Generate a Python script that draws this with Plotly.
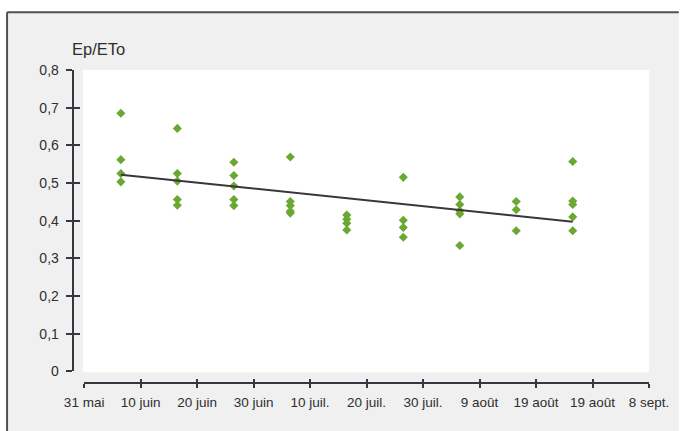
import numpy as np
import plotly.graph_objects as go

# ---- data -------------------------------------------------------------
# measurement dates (each sampling day, several plots per date)
dates = ["2009-06-06 12:00", "2009-06-16 12:00", "2009-06-26 12:00",
         "2009-07-06 12:00", "2009-07-16 12:00", "2009-07-26 12:00",
         "2009-08-05 12:00", "2009-08-15 12:00", "2009-08-25 12:00"]
# Ep/ETo ratios measured on each date
ratios = [
    [0.685, 0.562, 0.525, 0.503],
    [0.645, 0.525, 0.505, 0.456, 0.441],
    [0.555, 0.520, 0.492, 0.456, 0.440],
    [0.569, 0.451, 0.440, 0.425, 0.420],
    [0.415, 0.404, 0.393, 0.375],
    [0.515, 0.401, 0.382, 0.356],
    [0.463, 0.443, 0.426, 0.418, 0.334],
    [0.451, 0.429, 0.373],
    [0.557, 0.452, 0.443, 0.410, 0.373],
]

x_ticks = ["2009-05-31", "2009-06-10", "2009-06-20", "2009-06-30", "2009-07-10",
           "2009-07-20", "2009-07-30", "2009-08-09", "2009-08-19", "2009-08-29",
           "2009-09-08"]
x_labels = ["31 mai", "10 juin", "20 juin", "30 juin", "10 juil.", "20 juil.",
            "30 juil.", "9 août", "19 août", "19 août", "8 sept."]
y_ticks = [0, 0.1, 0.2, 0.3, 0.4, 0.5, 0.6, 0.7, 0.8]
y_labels = ["0", "0,1", "0,2", "0,3", "0,4", "0,5", "0,6", "0,7", "0,8"]
y_title = "Ep/ETo"

# ---- flatten points & linear trend -------------------------------------
px_dates, px_vals = [], []
for d, vals in zip(dates, ratios):
    px_dates += [d] * len(vals)
    px_vals += vals

t0 = np.datetime64("2009-05-31")


def day_of(d):
    return (np.datetime64(d.replace(" ", "T")) - t0) / np.timedelta64(1, "h") / 24


days = np.array([day_of(d) for d in px_dates])
slope, icpt = np.polyfit(days, np.array(px_vals), 1)
trend_x = [dates[0], dates[-1]]
trend_y = [icpt + slope * day_of(dates[0]), icpt + slope * day_of(dates[-1])]

# ---- page geometry (pixels) -------------------------------------------
W, H = 681, 431
ML, MR, MT, MB = 60, 28, 70, 40
PW, PH = W - ML - MR, H - MT - MB
X_AXIS_LEFT = 84.3      # first x tick
Y_ZERO = 371.3          # y = 0 level
Y_AXIS_X = 72.7         # y axis line
X_AXIS_Y = 382.7        # x axis line


def fx(px):
    return (px - ML) / PW


def fy(py):
    return (H - MB - py) / PH


INK = "#3a3540"
TXT = "#2e2e2e"
GREEN = "#6aa832"
FONT = "Liberation Sans, Arial, sans-serif"

fig = go.Figure()
fig.add_trace(go.Scatter(
    x=px_dates, y=px_vals, mode="markers",
    marker=dict(symbol="diamond", size=7, color=GREEN, line=dict(width=0)),
    showlegend=False, hoverinfo="skip"))
fig.add_trace(go.Scatter(
    x=trend_x, y=trend_y, mode="lines",
    line=dict(color=INK, width=2), showlegend=False, hoverinfo="skip"))
# companion axes carrying the inner half of the crossing tick marks
fig.add_trace(go.Scatter(x=[], y=[], xaxis="x2", yaxis="y2",
                         showlegend=False, hoverinfo="skip"))

x_range = [x_ticks[0], x_ticks[-1]]
y_range = [0, 0.8]
x_dom = [fx(X_AXIS_LEFT), 1]
y_dom = [fy(Y_ZERO), 1]

common_x = dict(type="date", range=x_range, domain=x_dom, anchor="free",
                position=fy(X_AXIS_Y), tickmode="array", tickvals=x_ticks,
                showgrid=False, zeroline=False, tickcolor=INK, tickwidth=1.5,
                ticklen=4)
common_y = dict(range=y_range, domain=y_dom, anchor="free",
                position=fx(Y_AXIS_X), tickmode="array", tickvals=y_ticks,
                showgrid=False, zeroline=False, tickcolor=INK, tickwidth=1.5,
                ticklen=6)

fig.update_layout(
    width=W, height=H,
    margin=dict(l=ML, r=MR, t=MT, b=MB, pad=0),
    paper_bgcolor="white",
    plot_bgcolor="rgba(0,0,0,0)",
    font=dict(family=FONT, color=TXT, size=13),
    xaxis=dict(**common_x, ticks="outside", ticktext=x_labels,
               showline=True, linecolor=INK, linewidth=2,
               tickfont=dict(size=13.5, color=TXT), ticklabelstandoff=3),
    yaxis=dict(**common_y, ticks="outside", ticktext=y_labels,
               showline=True, linecolor=INK, linewidth=2,
               tickfont=dict(size=14, color=TXT), ticklabelstandoff=4),
    xaxis2=dict(**common_x, overlaying="x", ticks="inside",
                showticklabels=False, showline=False),
    yaxis2=dict(**common_y, overlaying="y", ticks="inside",
                showticklabels=False, showline=False),
    shapes=[
        # grey panel with its top and left frame lines
        dict(type="rect", xref="paper", yref="paper", layer="below",
             x0=fx(6.7), x1=fx(W + 2), y0=fy(H + 2), y1=fy(12.3),
             fillcolor="#f0f0f0", line=dict(width=0)),
        dict(type="line", xref="paper", yref="paper", layer="below",
             x0=fx(6.7), x1=fx(W + 2), y0=fy(12.3), y1=fy(12.3),
             line=dict(color="#505050", width=2)),
        dict(type="line", xref="paper", yref="paper", layer="below",
             x0=fx(6.7), x1=fx(6.7), y0=fy(12.3), y1=fy(H + 2),
             line=dict(color="#505050", width=2)),
        # white plotting panel
        dict(type="rect", xref="x domain", yref="y domain", layer="below",
             x0=-0.002, x1=1.0, y0=-0.003, y1=1.0,
             fillcolor="white", line=dict(width=0)),
    ],
    annotations=[
        dict(text=y_title, xref="paper", yref="paper", x=fx(70.5), y=fy(49),
             xanchor="left", yanchor="middle", showarrow=False,
             font=dict(size=16.5, color=TXT, family=FONT)),
    ],
)

fig.write_html("out.html")
